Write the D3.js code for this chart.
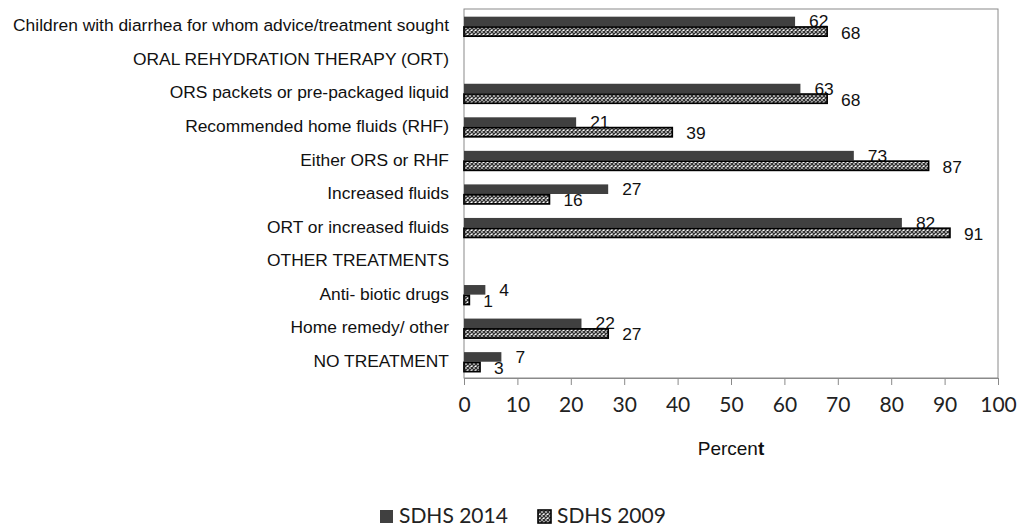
<!DOCTYPE html>
<html><head><meta charset="utf-8">
<script src="https://cdn.jsdelivr.net/npm/d3@7"></script>
<style>body{margin:0;background:#fff}svg{display:block}</style>
</head><body><svg id="c" width="1019" height="527"></svg>
<script>
const categories = [
  "Children with diarrhea for whom advice/treatment sought",
  "ORAL REHYDRATION THERAPY (ORT)",
  "ORS packets or pre-packaged liquid",
  "Recommended home fluids (RHF)",
  "Either ORS or RHF",
  "Increased fluids",
  "ORT or increased fluids",
  "OTHER TREATMENTS",
  "Anti- biotic drugs",
  "Home remedy/ other",
  "NO TREATMENT"
];
const sdhs2014 = [62, null, 63, 21, 73, 27, 82, null, 4, 22, 7];
const sdhs2009 = [68, null, 68, 39, 87, 16, 91, null, 1, 27, 3];
const xTicks = [0, 10, 20, 30, 40, 50, 60, 70, 80, 90, 100];
const seriesNames = ["SDHS 2014", "SDHS 2009"];

const svg = d3.select("#c");
const L = 464, R = 998, T = 9, B = 378;
const x = d3.scaleLinear().domain([0, 100]).range([L, R]);
const y = d3.scaleBand().domain(categories).range([T, B]);
const bw = y.bandwidth();
const barH = 9.6;
const dark = "#404040";

const defs = svg.append("defs");
const pat = defs.append("pattern").attr("id", "hatch").attr("patternUnits", "userSpaceOnUse")
  .attr("width", 4).attr("height", 4);
pat.append("rect").attr("width", 4).attr("height", 4).attr("fill", "#ffffff");
pat.append("path").attr("d", "M0,0L4,4M4,0L0,4").attr("stroke", "#333").attr("stroke-width", 1.4);

// frame
svg.append("rect").attr("x", L).attr("y", T).attr("width", R - L).attr("height", B - T)
  .attr("fill", "none").attr("stroke", "#8a8a8a").attr("stroke-width", 1);

// x axis
const xAxis = d3.axisBottom(x).tickValues(xTicks).tickSize(7).tickPadding(12).tickFormat(d3.format("d"));
const gx = svg.append("g").attr("transform", `translate(0,${B})`).call(xAxis);
gx.select(".domain").attr("stroke", "#8a8a8a");
gx.selectAll(".tick line").attr("stroke", "#8a8a8a");
gx.selectAll(".tick text").attr("font-family", "Lato, 'Open Sans', sans-serif")
  .attr("font-size", 21).attr("fill", "#222");

// category labels
const gy = svg.append("g").attr("transform", `translate(${L},0)`)
  .call(d3.axisLeft(y).tickSize(0).tickPadding(15));
gy.select(".domain").remove();
gy.selectAll(".tick text").attr("font-family", "'Liberation Sans', Arial, sans-serif")
  .attr("font-size", 17.4).attr("fill", "#111");

const rows = categories.map((c, i) => ({ c, a: sdhs2014[i], b: sdhs2009[i] }));
const labFont = "'Liberation Sans', Arial, sans-serif";

// 2014 bars
svg.append("g").selectAll("rect").data(rows.filter(d => d.a != null)).join("rect")
  .attr("x", x(0)).attr("y", d => y(d.c) + bw / 2 + 0.5 - barH)
  .attr("width", d => x(d.a) - x(0)).attr("height", barH).attr("fill", dark);

// 2014 labels
svg.append("g").selectAll("text").data(rows.filter(d => d.a != null)).join("text")
  .attr("x", d => x(d.a) + 14).attr("y", d => y(d.c) + bw / 2 + 0.5 - barH / 2)
  .attr("dominant-baseline", "central").attr("font-family", labFont).attr("font-size", 17.4)
  .attr("fill", "#111").text(d => d.a);

// 2009 bars
svg.append("g").selectAll("rect").data(rows.filter(d => d.b != null)).join("rect")
  .attr("x", x(0)).attr("y", d => y(d.c) + bw / 2 + 1.2)
  .attr("width", d => x(d.b) - x(0)).attr("height", barH - 0.4)
  .attr("fill", "url(#hatch)").attr("stroke", "#000").attr("stroke-width", 1.7);

// 2009 labels
svg.append("g").selectAll("text").data(rows.filter(d => d.b != null)).join("text")
  .attr("x", d => x(d.b) + 14).attr("y", d => y(d.c) + bw / 2 + 1 + barH / 2 + 1)
  .attr("dominant-baseline", "central").attr("font-family", labFont).attr("font-size", 17.4)
  .attr("fill", "#111").text(d => d.b);

// axis title
const title = svg.append("text").attr("x", (L + R) / 2).attr("y", 455).attr("text-anchor", "middle")
  .attr("font-family", labFont).attr("font-size", 19).attr("fill", "#111");
title.append("tspan").text("Percen");
title.append("tspan").attr("font-weight", "bold").text("t");

// legend
const leg = svg.append("g").attr("font-family", "Lato, 'Open Sans', sans-serif").attr("font-size", 21).attr("fill", "#222");
const legItems = [
  { name: seriesNames[0], x: 380, fill: dark, stroke: "none" },
  { name: seriesNames[1], x: 538, fill: "url(#hatch)", stroke: "#000" }
];
legItems.forEach(it => {
  leg.append("rect").attr("x", it.x).attr("y", 510).attr("width", 13).attr("height", 13)
    .attr("fill", it.fill).attr("stroke", it.stroke).attr("stroke-width", 1.6);
  leg.append("text").attr("x", it.x + 19).attr("y", 523).text(it.name);
});
</script></body></html>
